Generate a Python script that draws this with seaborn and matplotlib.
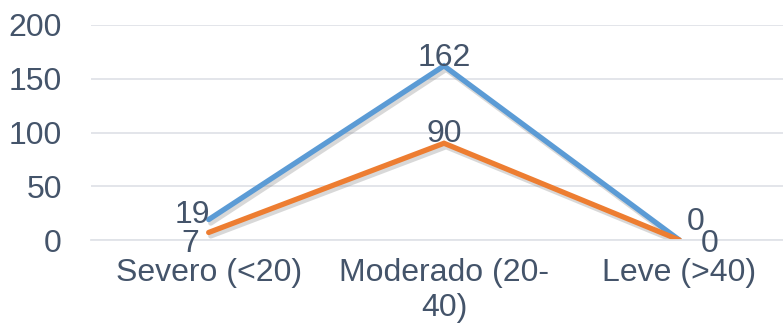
import matplotlib
matplotlib.use("Agg")
import matplotlib.pyplot as plt
import matplotlib.patheffects as pe
import pandas as pd
import seaborn as sns

categories = ["Severo (<20)", "Moderado (20-\n40)", "Leve (>40)"]
serie_1 = [19, 162, 0]
serie_2 = [7, 90, 0]
series_names = ["Serie 1", "Serie 2"]
colors = ["#5B9BD5", "#ED7D31"]
y_ticks = [0, 50, 100, 150, 200]

text_color = "#44546A"
grid_color = "#E0E3E8"
fs = 23

sns.set_theme(style="white")
plt.rcParams["font.family"] = ["Liberation Sans", "DejaVu Sans"]

rows = []
for name, values in zip(series_names, [serie_1, serie_2]):
    for i, (cat, v) in enumerate(zip(categories, values)):
        rows.append({"pos": i, "categoria": cat, "valor": v, "serie": name})
df = pd.DataFrame(rows)

W, H = 783, 331
fig = plt.figure(figsize=(W / 100, H / 100), dpi=100)
ax = fig.add_axes([91 / W, 91 / H, (797 - 91) / W, (240 - 25) / H])

sns.lineplot(data=df, x="pos", y="valor", hue="serie", palette=colors,
             sort=False, linewidth=3.8, legend=False, ax=ax)

for line in ax.get_lines():
    line.set_solid_joinstyle("miter")
    line.set_path_effects([pe.SimpleLineShadow(offset=(1.5, -2.5), shadow_color="gray", alpha=0.3),
                           pe.Normal()])

ax.set_xlim(-0.5, len(categories) - 0.5)
ax.set_ylim(0, 200)
ax.set_yticks(y_ticks)
ax.yaxis.grid(True, color=grid_color, linewidth=1.3)
ax.set_axisbelow(True)
for s in ["top", "right", "left"]:
    ax.spines[s].set_visible(False)
ax.spines["bottom"].set_color(grid_color)
ax.spines["bottom"].set_linewidth(1.3)

# category boundaries as major ticks, category names as minor ticks
ax.set_xticks([i - 0.5 for i in range(len(categories) + 1)])
ax.set_xticklabels([])
ax.tick_params(axis="x", which="major", length=8, width=1.3, color=grid_color, direction="out")
ax.set_xticks(range(len(categories)), categories, minor=True)
ax.tick_params(axis="x", which="minor", length=0, pad=13, labelsize=fs, labelcolor=text_color)
for t in ax.get_xticklabels(minor=True):
    t.set_linespacing(1.2)
    t.set_verticalalignment("top")
ax.tick_params(axis="y", length=0, pad=21, labelsize=fs, labelcolor=text_color)
ax.set_xlabel("")
ax.set_ylabel("")

# data labels (offsets in points)
offsets_1 = [(-12, 3), (0, 6), (12, 13)]
offsets_2 = [(-13, -8), (0, 7), (22, -3)]
for values, offs in [(serie_1, offsets_1), (serie_2, offsets_2)]:
    for i, (v, (dx, dy)) in enumerate(zip(values, offs)):
        ax.annotate(str(v), (i, v), xytext=(dx, dy), textcoords="offset points",
                    ha="center", va="center", fontsize=fs, color=text_color,
                    annotation_clip=False)

fig.savefig("out.png", dpi=100)
